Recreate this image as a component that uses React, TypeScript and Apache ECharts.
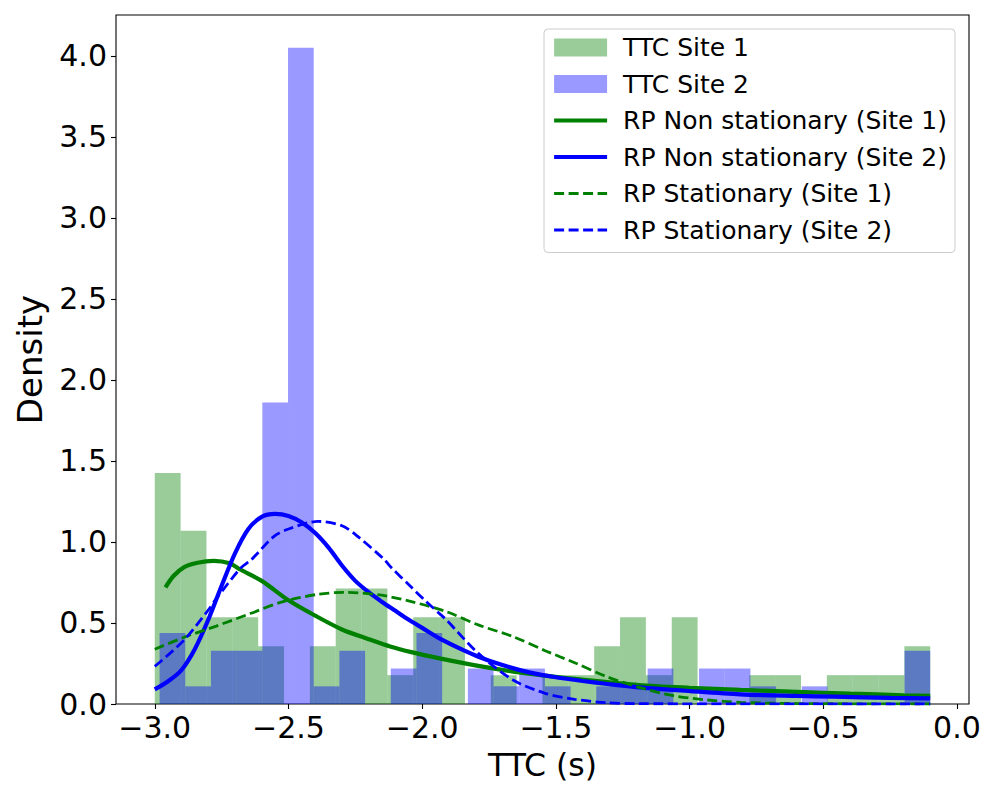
import React, { useEffect, useRef } from "react";
import * as echarts from "echarts";

// ---------- data ----------
const binCount = 30;
const site1Range = [-3.0, -0.1];
const site2Range = [-2.982, -0.1];
const site1Density = [
  1.426, 1.07, 0.535, 0.535, 0.357, 0, 0.357, 0.713, 0.713, 0.178,
  0.535, 0.535, 0, 0.178, 0, 0.178, 0.178, 0.357, 0.535, 0.178,
  0.535, 0, 0, 0.178, 0.178, 0, 0.178, 0.178, 0.178, 0.357,
];
const site2Density = [
  0.438, 0.109, 0.328, 0.328, 1.861, 4.05, 0.109, 0.328, 0, 0.219,
  0.438, 0, 0.219, 0.109, 0.219, 0.109, 0, 0.109, 0.109, 0.219,
  0, 0.219, 0.219, 0.109, 0, 0.109, 0, 0, 0, 0.328,
];

const nonStat1 = [
  [-2.96, 0.72], [-2.93, 0.79], [-2.89, 0.845], [-2.84, 0.872], [-2.78, 0.883],
  [-2.72, 0.868], [-2.68, 0.83], [-2.6, 0.76], [-2.5, 0.64], [-2.4, 0.545],
  [-2.3, 0.46], [-2.2, 0.4], [-2.12, 0.355], [-2.04, 0.32], [-1.93, 0.28],
  [-1.79, 0.235], [-1.66, 0.2], [-1.54, 0.175], [-1.4, 0.15], [-1.19, 0.117],
  [-1.0, 0.1], [-0.81, 0.087], [-0.6, 0.075], [-0.4, 0.064], [-0.2, 0.054], [-0.1, 0.05],
];
const nonStat2 = [
  [-3.0, 0.09], [-2.95, 0.14], [-2.9, 0.21], [-2.85, 0.34], [-2.8, 0.52],
  [-2.75, 0.73], [-2.7, 0.93], [-2.65, 1.08], [-2.6, 1.155], [-2.55, 1.173],
  [-2.5, 1.16], [-2.45, 1.12], [-2.4, 1.055], [-2.35, 0.965], [-2.3, 0.855],
  [-2.25, 0.76], [-2.2, 0.69], [-2.15, 0.63], [-2.1, 0.575], [-2.05, 0.52],
  [-2.0, 0.47], [-1.93, 0.4], [-1.85, 0.335], [-1.79, 0.292], [-1.7, 0.24],
  [-1.6, 0.195], [-1.5, 0.165], [-1.4, 0.142], [-1.3, 0.122], [-1.19, 0.103],
  [-1.0, 0.08], [-0.81, 0.06], [-0.6, 0.05], [-0.46, 0.045], [-0.25, 0.038], [-0.1, 0.035],
];
const stat1 = [
  [-3.0, 0.338], [-2.89, 0.412], [-2.77, 0.481], [-2.64, 0.56], [-2.52, 0.632],
  [-2.39, 0.677], [-2.29, 0.689], [-2.16, 0.673], [-2.04, 0.632], [-1.91, 0.57],
  [-1.79, 0.488], [-1.66, 0.416], [-1.54, 0.329], [-1.43, 0.255], [-1.31, 0.169],
  [-1.185, 0.101], [-1.06, 0.051], [-0.935, 0.025], [-0.81, 0.01], [-0.6, 0.003],
  [-0.1, 0.0],
];
const stat2 = [
  [-3.0, 0.232], [-2.89, 0.395], [-2.8, 0.58], [-2.77, 0.65], [-2.68, 0.837],
  [-2.64, 0.889], [-2.555, 1.033], [-2.5, 1.08], [-2.39, 1.127], [-2.3, 1.1],
  [-2.24, 1.033], [-2.14, 0.889], [-2.12, 0.85], [-2.04, 0.72], [-1.99, 0.64],
  [-1.93, 0.55], [-1.91, 0.52], [-1.79, 0.313], [-1.66, 0.148], [-1.54, 0.066],
  [-1.43, 0.029], [-1.31, 0.008], [-1.2, 0.002], [-0.1, 0.0],
];

const xTicks = [-3.0, -2.5, -2.0, -1.5, -1.0, -0.5, 0.0];
const yTicks = [0, 0.5, 1.0, 1.5, 2.0, 2.5, 3.0, 3.5, 4.0];

const FONT = "DejaVu Sans";
const GREEN_FILL = "rgba(0,128,0,0.4)";
const BLUE_FILL = "rgba(0,0,255,0.4)";

function binsOf(range: number[], dens: number[]) {
  const w = (range[1] - range[0]) / binCount;
  return dens.map((d, i) => [range[0] + i * w, range[0] + (i + 1) * w, d]);
}

function histSeries(name: string, range: number[], dens: number[], fill: string) {
  return {
    type: "custom",
    name,
    data: binsOf(range, dens),
    encode: { x: [0, 1], y: 2 },
    itemStyle: { color: fill },
    z: 1,
    renderItem: (params: any, api: any) => {
      const p0 = api.coord([api.value(0), api.value(2)]);
      const p1 = api.coord([api.value(1), 0]);
      return {
        type: "rect",
        shape: { x: p0[0], y: p0[1], width: p1[0] - p0[0], height: p1[1] - p0[1] },
        style: { fill },
      };
    },
  };
}

function lineSeries(name: string, data: number[][], color: string, dashed: boolean, z: number) {
  return {
    type: "line",
    name,
    data,
    smooth: 0.3,
    symbol: "none",
    z,
    lineStyle: {
      color,
      width: dashed ? 2.8 : 4.2,
      type: dashed ? [10, 4.5] : "solid",
    },
    itemStyle: { color },
  };
}

function lineLegend(name: string, color: string, dashed: boolean) {
  return {
    name,
    itemStyle: { opacity: 0, color: "transparent", borderWidth: 0 },
    lineStyle: {
      color,
      width: dashed ? 2.8 : 4.2,
      type: dashed ? [10, 4.5] : "solid",
    },
  };
}

const fmt = (v: number) => (v < 0 ? "\u2212" + Math.abs(v).toFixed(1) : v.toFixed(1));

export default function App() {
  const ref = useRef<HTMLDivElement>(null);
  useEffect(() => {
    if (!ref.current) return;
    const chart = echarts.init(ref.current, undefined, { renderer: "svg" });
    chart.setOption({
      animation: false,
      backgroundColor: "#fff",
      textStyle: { fontFamily: FONT },
      grid: {
        left: 116,
        top: 15,
        right: 31,
        bottom: 96,
        show: true,
        borderColor: "#000",
        borderWidth: 1.1,
        backgroundColor: "transparent",
      },
      xAxis: {
        type: "value",
        min: -3.145,
        max: 0.045,
        name: "TTC (s)",
        nameLocation: "middle",
        nameGap: 45,
        nameTextStyle: { fontSize: 31.5, color: "#000", fontFamily: FONT },
        axisLine: { show: false, onZero: false },
        splitLine: { show: false },
        axisTick: {
          show: true,
          inside: false,
          length: 5,
          lineStyle: { color: "#000", width: 1.1 },
          customValues: xTicks,
        },
        axisLabel: {
          fontSize: 30,
          color: "#000",
          fontFamily: FONT,
          margin: 8,
          customValues: xTicks,
          formatter: fmt,
        },
      },
      yAxis: {
        type: "value",
        min: 0,
        max: 4.2525,
        name: "Density",
        nameLocation: "middle",
        nameGap: 69,
        nameTextStyle: { fontSize: 34, color: "#000", fontFamily: FONT },
        axisLine: { show: false, onZero: false },
        splitLine: { show: false },
        axisTick: {
          show: true,
          inside: false,
          length: 5,
          lineStyle: { color: "#000", width: 1.1 },
          customValues: yTicks,
        },
        axisLabel: {
          fontSize: 30,
          color: "#000",
          fontFamily: FONT,
          margin: 9,
          customValues: yTicks,
          formatter: fmt,
        },
      },
      legend: {
        orient: "vertical",
        left: 544,
        top: 29,
        padding: [6, 8, 10, 8],
        itemGap: 11.5,
        itemWidth: 53,
        itemHeight: 18,
        backgroundColor: "rgba(255,255,255,0.8)",
        borderColor: "#cccccc",
        borderWidth: 1,
        borderRadius: 4,
        textStyle: { fontSize: 25, color: "#000", fontFamily: FONT, padding: [0, 0, 0, 11] },
        data: [
          { name: "TTC Site 1", icon: "rect", itemStyle: { color: GREEN_FILL } },
          { name: "TTC Site 2", icon: "rect", itemStyle: { color: BLUE_FILL } },
          lineLegend("RP Non stationary (Site 1)", "#008000", false),
          lineLegend("RP Non stationary (Site 2)", "#0000ff", false),
          lineLegend("RP Stationary (Site 1)", "#008000", true),
          lineLegend("RP Stationary (Site 2)", "#0000ff", true),
        ],
      },
      series: [
        histSeries("TTC Site 1", site1Range, site1Density, GREEN_FILL),
        histSeries("TTC Site 2", site2Range, site2Density, BLUE_FILL),
        lineSeries("RP Non stationary (Site 1)", nonStat1, "#008000", false, 3),
        lineSeries("RP Non stationary (Site 2)", nonStat2, "#0000ff", false, 4),
        lineSeries("RP Stationary (Site 1)", stat1, "#008000", true, 5),
        lineSeries("RP Stationary (Site 2)", stat2, "#0000ff", true, 6),
      ],
    });
    return () => chart.dispose();
  }, []);
  return (
    <div
      ref={ref}
      style={{ position: "fixed", left: 0, top: 0, width: 1000, height: 800 }}
    />
  );
}
